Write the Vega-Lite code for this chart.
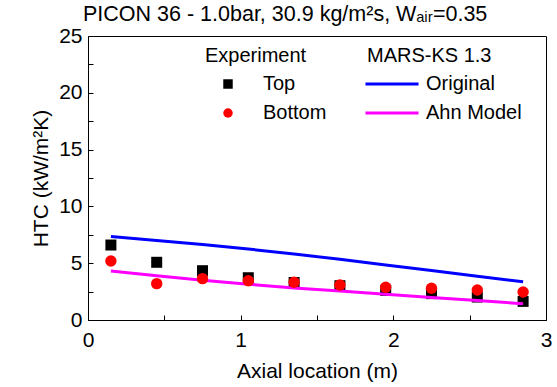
{
  "$schema": "https://vega.github.io/schema/vega-lite/v6.json",
  "width": 458,
  "height": 284,
  "autosize": "none",
  "padding": {"left": 88, "top": 36, "right": 11, "bottom": 67},
  "background": "white",
  "title": {"text": "PICON 36 - 1.0bar, 30.9 kg/m²s, Wₐᵢᵣ=0.35", "anchor": "start", "frame": "group", "dx": -5, "offset": 0, "fontSize": 21.5, "fontWeight": "normal", "font": "Liberation Sans", "color": "black"},
  "config": {
    "font": "Liberation Sans",
    "view": {"stroke": "black", "strokeWidth": 1},
    "axis": {"domainColor": "black", "tickColor": "black", "labelColor": "black", "titleColor": "black", "grid": false, "labelFontSize": 21, "titleFontSize": 21, "titleFontWeight": "normal", "tickSize": -5, "tickWidth": 1, "domainWidth": 1},
    "legend": {"labelFontSize": 20, "titleFontSize": 20, "titleFontWeight": "normal", "titleColor": "black", "labelColor": "black", "padding": 0, "orient": "none"}
  },
  "datasets": {
    "exp": [
      {"x": 0.15, "htc": 6.6, "series": "Top"},
      {"x": 0.45, "htc": 5.08, "series": "Top"},
      {"x": 0.75, "htc": 4.34, "series": "Top"},
      {"x": 1.05, "htc": 3.72, "series": "Top"},
      {"x": 1.35, "htc": 3.3, "series": "Top"},
      {"x": 1.65, "htc": 3.02, "series": "Top"},
      {"x": 1.95, "htc": 2.61, "series": "Top"},
      {"x": 2.25, "htc": 2.32, "series": "Top"},
      {"x": 2.55, "htc": 2.02, "series": "Top"},
      {"x": 2.85, "htc": 1.64, "series": "Top"},
      {"x": 0.15, "htc": 5.19, "series": "Bottom"},
      {"x": 0.45, "htc": 3.2, "series": "Bottom"},
      {"x": 0.75, "htc": 3.64, "series": "Bottom"},
      {"x": 1.05, "htc": 3.46, "series": "Bottom"},
      {"x": 1.35, "htc": 3.32, "series": "Bottom"},
      {"x": 1.65, "htc": 3.08, "series": "Bottom"},
      {"x": 1.95, "htc": 2.88, "series": "Bottom"},
      {"x": 2.25, "htc": 2.79, "series": "Bottom"},
      {"x": 2.55, "htc": 2.64, "series": "Bottom"},
      {"x": 2.85, "htc": 2.46, "series": "Bottom"}
    ],
    "sim": [
      {"x": 0.15, "htc": 7.35, "model": "Original"},
      {"x": 0.45, "htc": 7.0, "model": "Original"},
      {"x": 0.75, "htc": 6.65, "model": "Original"},
      {"x": 1.05, "htc": 6.25, "model": "Original"},
      {"x": 1.35, "htc": 5.8, "model": "Original"},
      {"x": 1.65, "htc": 5.35, "model": "Original"},
      {"x": 1.95, "htc": 4.85, "model": "Original"},
      {"x": 2.25, "htc": 4.35, "model": "Original"},
      {"x": 2.55, "htc": 3.85, "model": "Original"},
      {"x": 2.85, "htc": 3.37, "model": "Original"},
      {"x": 0.15, "htc": 4.31, "model": "Ahn Model"},
      {"x": 0.45, "htc": 3.9, "model": "Ahn Model"},
      {"x": 0.75, "htc": 3.5, "model": "Ahn Model"},
      {"x": 1.05, "htc": 3.15, "model": "Ahn Model"},
      {"x": 1.35, "htc": 2.82, "model": "Ahn Model"},
      {"x": 1.65, "htc": 2.55, "model": "Ahn Model"},
      {"x": 1.95, "htc": 2.27, "model": "Ahn Model"},
      {"x": 2.25, "htc": 1.98, "model": "Ahn Model"},
      {"x": 2.55, "htc": 1.71, "model": "Ahn Model"},
      {"x": 2.85, "htc": 1.44, "model": "Ahn Model"}
    ]
  },
  "encoding": {
    "x": {"field": "x", "type": "quantitative", "scale": {"domain": [0, 3], "nice": false}, "axis": {"title": "Axial location (m)", "values": [0, 0.5, 1, 1.5, 2, 2.5, 3], "format": "~g", "labelExpr": "datum.value % 1 === 0 ? datum.label : ''", "labelPadding": 14, "titlePadding": 10, "labelFlush": false}},
    "y": {"field": "htc", "type": "quantitative", "scale": {"domain": [0, 25], "nice": false}, "axis": {"title": "HTC (kW/m²K)", "values": [0, 2.5, 5, 7.5, 10, 12.5, 15, 17.5, 20, 22.5, 25], "format": "~g", "labelExpr": "datum.value % 5 === 0 ? datum.label : ''", "labelPadding": 11, "titlePadding": 7}}
  },
  "layer": [
    {
      "data": {"name": "exp"},
      "transform": [{"filter": "datum.series === 'Top'"}],
      "mark": {"type": "point", "filled": true, "opacity": 1, "size": 121},
      "encoding": {
        "color": {"field": "series", "type": "nominal", "scale": {"domain": ["Top", "Bottom"], "range": ["#000000", "#ff0000"]}, "legend": {"title": "Experiment", "legendX": 117, "legendY": 10, "symbolOffset": 13, "labelOffset": 25, "rowPadding": 9, "titlePadding": 8, "symbolSize": 90}},
        "shape": {"field": "series", "type": "nominal", "scale": {"domain": ["Top", "Bottom"], "range": ["square", "circle"]}, "legend": {"title": "Experiment", "legendX": 117, "legendY": 10, "symbolOffset": 13, "labelOffset": 25, "rowPadding": 9, "titlePadding": 8, "symbolSize": 90}}
      }
    },
    {
      "data": {"name": "sim"},
      "mark": {"type": "line", "strokeWidth": 3},
      "encoding": {
        "stroke": {"field": "model", "type": "nominal", "scale": {"domain": ["Original", "Ahn Model"], "range": ["#0000ff", "#ff00ff"]}, "legend": {"title": "MARS-KS 1.3", "legendX": 279, "legendY": 10, "symbolType": "M-4,0H4", "symbolSize": 176, "symbolStrokeWidth": 3, "symbolOffset": 15, "labelOffset": 24, "rowPadding": 9, "titlePadding": 8}}
      }
    },
    {
      "data": {"name": "exp"},
      "transform": [{"filter": "datum.series === 'Bottom'"}],
      "mark": {"type": "point", "filled": true, "opacity": 1, "size": 130},
      "encoding": {
        "color": {"field": "series", "type": "nominal", "scale": {"domain": ["Top", "Bottom"], "range": ["#000000", "#ff0000"]}, "legend": {"title": "Experiment", "legendX": 117, "legendY": 10, "symbolOffset": 13, "labelOffset": 25, "rowPadding": 9, "titlePadding": 8, "symbolSize": 90}},
        "shape": {"field": "series", "type": "nominal", "scale": {"domain": ["Top", "Bottom"], "range": ["square", "circle"]}, "legend": {"title": "Experiment", "legendX": 117, "legendY": 10, "symbolOffset": 13, "labelOffset": 25, "rowPadding": 9, "titlePadding": 8, "symbolSize": 90}}
      }
    }
  ]
}
